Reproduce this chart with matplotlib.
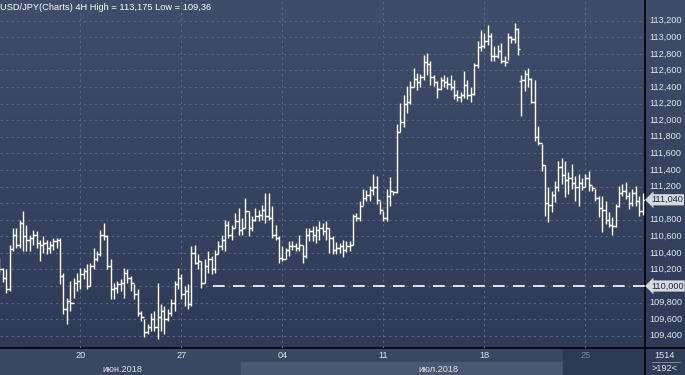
import numpy as np
import matplotlib
matplotlib.use("Agg")
import matplotlib.pyplot as plt
from matplotlib.colors import LinearSegmentedColormap
from matplotlib.patches import Rectangle

plt.rcParams["font.family"] = ["Liberation Sans", "DejaVu Sans"]

# USD/JPY 4H bars, 14.06.2018 - 26.07.2018 (192 bars)
opens = [
    110.28, 110.20, 110.10, 109.96, 110.45, 110.62, 110.50, 110.76, 110.60, 110.56,
    110.58, 110.62, 110.52, 110.50, 110.52, 110.46, 110.50, 110.54, 110.56, 110.12,
    109.72, 109.82, 109.80, 110.04, 110.06, 110.14, 110.18, 110.00, 110.24, 110.32,
    110.38, 110.62, 110.60, 110.24, 109.96, 109.98, 110.02, 110.04, 110.16, 110.10,
    110.04, 109.90, 109.68, 109.62, 109.44, 109.50, 109.60, 109.50, 109.62, 109.70,
    109.60, 109.68, 109.80, 110.02, 110.10, 109.90, 109.94, 109.78, 110.40, 110.28,
    110.30, 110.04, 110.24, 110.32, 110.20, 110.38, 110.48, 110.56, 110.74, 110.62,
    110.70, 110.78, 110.68, 110.70, 110.90, 110.70, 110.80, 110.84, 110.86, 110.92,
    110.84, 110.82, 110.62, 110.58, 110.34, 110.32, 110.44, 110.48, 110.48, 110.46,
    110.50, 110.36, 110.62, 110.66, 110.62, 110.68, 110.70, 110.66, 110.70, 110.58,
    110.44, 110.46, 110.48, 110.44, 110.48, 110.50, 110.85, 110.82, 110.96, 111.06,
    111.10, 111.16, 111.20, 111.04, 110.92, 110.82, 111.08, 111.14, 111.13, 111.86,
    111.98, 112.20, 112.22, 112.40, 112.50, 112.46, 112.52, 112.70, 112.68, 112.52,
    112.46, 112.38, 112.48, 112.46, 112.44, 112.40, 112.30, 112.28, 112.30, 112.42,
    112.30, 112.32, 112.66, 112.88, 112.90, 112.96, 113.02, 112.78, 112.78, 112.84,
    112.72, 112.70, 113.00, 112.98, 113.10, 112.47, 112.48, 112.56, 112.50, 112.22,
    111.80, 111.72, 111.46, 111.00, 110.98, 111.10, 111.20, 111.44, 111.34, 111.28,
    111.30, 111.24, 111.20, 111.24, 111.20, 111.30, 111.22, 111.18, 111.06, 110.94,
    110.92, 110.80, 110.74, 110.72, 110.96, 111.12, 111.14, 111.08, 111.00, 111.12,
    111.02, 110.90,
]
highs = [
    110.34, 110.22, 110.20, 110.50, 110.70, 110.70, 110.80, 110.91, 110.74, 110.62,
    110.68, 110.66, 110.56, 110.60, 110.56, 110.54, 110.58, 110.58, 110.58, 110.16,
    109.86, 110.06, 110.10, 110.16, 110.22, 110.22, 110.26, 110.28, 110.46, 110.42,
    110.68, 110.76, 110.62, 110.32, 110.04, 110.06, 110.08, 110.22, 110.20, 110.12,
    110.02, 109.96, 109.70, 109.60, 109.54, 109.68, 109.70, 110.04, 109.78, 109.76,
    109.72, 109.84, 110.06, 110.22, 110.14, 110.00, 110.02, 110.48, 110.50, 110.38,
    110.30, 110.32, 110.42, 110.36, 110.44, 110.54, 110.62, 110.80, 110.78, 110.74,
    110.88, 110.94, 110.82, 111.06, 110.90, 110.84, 110.94, 110.92, 110.98, 111.12,
    111.12, 110.96, 110.74, 110.60, 110.48, 110.46, 110.54, 110.54, 110.52, 110.62,
    110.50, 110.70, 110.70, 110.72, 110.72, 110.78, 110.76, 110.78, 110.70, 110.60,
    110.53, 110.52, 110.55, 110.54, 110.54, 110.87, 110.88, 111.03, 111.17, 111.16,
    111.21, 111.35, 111.33, 111.03, 110.91, 111.17, 111.31, 111.15, 111.95, 112.21,
    112.31, 112.41, 112.47, 112.63, 112.57, 112.56, 112.79, 112.81, 112.72, 112.55,
    112.47, 112.52, 112.55, 112.52, 112.54, 112.49, 112.36, 112.34, 112.59, 112.48,
    112.40, 112.69, 112.95, 113.09, 113.05, 113.15, 113.05, 112.89, 112.91, 112.93,
    112.78, 113.05, 113.02, 113.175, 113.11, 112.55, 112.61, 112.63, 112.51, 112.49,
    111.93, 111.71, 111.46, 111.19, 111.15, 111.27, 111.51, 111.55, 111.51, 111.37,
    111.47, 111.33, 111.35, 111.30, 111.35, 111.39, 111.21, 111.17, 111.09, 111.09,
    111.03, 110.89, 110.83, 110.99, 111.21, 111.23, 111.25, 111.13, 111.17, 111.21,
    111.09, 111.12,
]
lows = [
    110.16, 110.05, 109.92, 109.94, 110.42, 110.46, 110.46, 110.42, 110.42, 110.42,
    110.50, 110.46, 110.30, 110.40, 110.38, 110.40, 110.44, 110.46, 110.02, 109.66,
    109.54, 109.70, 109.86, 109.94, 109.96, 110.08, 109.96, 110.00, 110.20, 110.30,
    110.36, 110.56, 110.20, 109.84, 109.84, 109.92, 109.94, 109.86, 110.04, 109.94,
    109.84, 109.64, 109.58, 109.38, 109.42, 109.46, 109.46, 109.36, 109.46, 109.42,
    109.58, 109.64, 109.70, 109.96, 109.84, 109.76, 109.72, 109.76, 110.26, 110.20,
    109.98, 110.04, 110.16, 110.14, 110.16, 110.38, 110.44, 110.42, 110.58, 110.56,
    110.70, 110.62, 110.62, 110.70, 110.60, 110.66, 110.78, 110.78, 110.80, 110.76,
    110.80, 110.58, 110.56, 110.28, 110.30, 110.32, 110.36, 110.44, 110.42, 110.42,
    110.28, 110.34, 110.54, 110.54, 110.52, 110.56, 110.62, 110.56, 110.40, 110.39,
    110.38, 110.40, 110.35, 110.41, 110.42, 110.50, 110.78, 110.79, 110.98, 111.03,
    111.03, 111.10, 110.99, 110.87, 110.79, 110.79, 110.97, 111.10, 111.12, 111.86,
    111.92, 112.09, 112.19, 112.40, 112.37, 112.40, 112.49, 112.55, 112.43, 112.41,
    112.27, 112.36, 112.40, 112.38, 112.36, 112.25, 112.23, 112.22, 112.27, 112.26,
    112.22, 112.31, 112.63, 112.83, 112.87, 112.91, 112.71, 112.71, 112.75, 112.69,
    112.65, 112.73, 112.93, 112.93, 112.79, 112.05, 112.35, 112.40, 112.21, 111.75,
    111.70, 111.39, 110.85, 110.77, 110.89, 111.01, 111.15, 111.23, 111.07, 111.11,
    111.17, 111.03, 110.97, 111.16, 111.19, 111.15, 111.15, 111.03, 110.83, 110.65,
    110.75, 110.71, 110.61, 110.71, 110.95, 111.09, 111.05, 110.93, 110.97, 110.97,
    110.85, 110.86,
]
closes = [
    110.20, 110.10, 109.96, 110.45, 110.62, 110.50, 110.76, 110.60, 110.56, 110.58,
    110.62, 110.52, 110.50, 110.52, 110.46, 110.50, 110.54, 110.56, 110.12, 109.72,
    109.82, 109.80, 110.04, 110.06, 110.14, 110.18, 110.00, 110.24, 110.32, 110.38,
    110.62, 110.60, 110.24, 109.96, 109.98, 110.02, 110.04, 110.16, 110.10, 110.04,
    109.90, 109.68, 109.62, 109.44, 109.50, 109.60, 109.50, 109.62, 109.70, 109.60,
    109.68, 109.80, 110.02, 110.10, 109.90, 109.94, 109.78, 110.40, 110.28, 110.30,
    110.04, 110.24, 110.32, 110.20, 110.38, 110.48, 110.56, 110.74, 110.62, 110.70,
    110.78, 110.68, 110.70, 110.90, 110.70, 110.80, 110.84, 110.86, 110.92, 110.84,
    110.82, 110.62, 110.58, 110.34, 110.32, 110.44, 110.48, 110.48, 110.46, 110.50,
    110.36, 110.62, 110.66, 110.62, 110.68, 110.70, 110.66, 110.70, 110.58, 110.44,
    110.46, 110.48, 110.44, 110.48, 110.50, 110.85, 110.82, 110.96, 111.06, 111.10,
    111.16, 111.20, 111.04, 110.92, 110.82, 111.08, 111.14, 111.13, 111.86, 111.98,
    112.20, 112.22, 112.40, 112.50, 112.46, 112.52, 112.70, 112.68, 112.52, 112.46,
    112.38, 112.48, 112.46, 112.44, 112.40, 112.30, 112.28, 112.30, 112.42, 112.30,
    112.32, 112.66, 112.88, 112.90, 112.96, 113.02, 112.78, 112.78, 112.84, 112.72,
    112.70, 113.00, 112.98, 113.10, 112.86, 112.48, 112.56, 112.50, 112.22, 111.80,
    111.72, 111.46, 111.00, 110.98, 111.10, 111.20, 111.44, 111.34, 111.28, 111.30,
    111.24, 111.20, 111.24, 111.20, 111.30, 111.22, 111.18, 111.06, 110.94, 110.92,
    110.80, 110.74, 110.72, 110.96, 111.12, 111.14, 111.08, 111.00, 111.12, 111.02,
    110.90, 111.04,
]

price_levels = [109.4, 109.6, 109.8, 110.0, 110.2, 110.4, 110.6, 110.8, 111.0,
                111.2, 111.4, 111.6, 111.8, 112.0, 112.2, 112.4, 112.6, 112.8,
                113.0, 113.2]
week_bars = [24, 54, 84, 114, 144, 174]
week_labels = ["20", "27", "04", "11", "18", "25"]
month_labels = ["июн.2018", "июл.2018"]
level_line = 110.0
last_price = 111.04

W, H = 685, 375
FS = 6.6
fig = plt.figure(figsize=(W / 100, H / 100), dpi=100)

# background gradient
bg = fig.add_axes([0, 0, 1, 1])
bg.set_xlim(0, W)
bg.set_ylim(H, 0)
bg.axis("off")
cmap = LinearSegmentedColormap.from_list("bg", ["#404d6a", "#2e3a57"])
grad = np.linspace(0, 1, 256).reshape(-1, 1)
bg.imshow(grad, cmap=cmap, aspect="auto", extent=[0, W, 348, 0], zorder=0)

# bottom band
band_top = "#3a4762"
bg.add_patch(Rectangle((0, 348), 563, 14, color=band_top, zorder=1))
bg.add_patch(Rectangle((0, 362), 241, 13, color=band_top, zorder=1))
bg.add_patch(Rectangle((241, 362), 322, 13, color="#4b5771", zorder=1))
bg.add_patch(Rectangle((563, 348), 82, 27, color="#2d3955", zorder=1))
bg.add_patch(Rectangle((645, 348), 40, 27, color="#2f3b57", zorder=1))
bg.plot([0, W], [348, 348], color="black", lw=1.2, zorder=3)
bg.plot([645.5, 645.5], [0, H], color="black", lw=1.2, zorder=3)
bg.plot([652, 680], [362, 362], color="#8a93a6", lw=0.6, zorder=3)
bg.text(665, 355.5, "1514", color="#e6e9ee", fontsize=FS, ha="center", va="center")
bg.text(665, 368.5, ">192<", color="#e6e9ee", fontsize=FS, ha="center", va="center")

# main price axes
ax = fig.add_axes([0, 27 / H, 645 / W, 348 / H])
ax.set_facecolor("none")
ax.set_xlim(0.15, 191.73)
ax.set_ylim(109.252, 113.45)
for s in ax.spines.values():
    s.set_visible(False)
ax.set_xticks([])
ax.set_yticks([])

grid_kw = dict(color="#5a6681", lw=0.8, dashes=(2, 3), zorder=1)
for lv in price_levels:
    ax.axhline(lv, **grid_kw)
for wb in week_bars:
    ax.axvline(wb, **grid_kw)

idx = np.arange(len(closes))
ax.vlines(idx, lows, highs, color="white", lw=1.0, zorder=3)
ax.hlines(opens, idx - 0.65, idx, color="white", lw=1.0, zorder=3)
ax.hlines(closes, idx, idx + 0.65, color="white", lw=1.0, zorder=3)

ax.plot([63.4, 191.73], [level_line, level_line], color="white", lw=1.2,
        dashes=(7, 5), zorder=3)

# right price scale
ytr = ax.get_yaxis_transform()
for lv in price_levels:
    if abs(lv - last_price) < 0.1 or abs(lv - level_line) < 0.01:
        continue
    ax.text(1.0 + 4 / 645, lv, f"{lv:.3f}".replace(".", ","), transform=ytr,
            color="#e3e6ec", fontsize=FS, ha="left", va="center", clip_on=False)

tag_kw = dict(transform=ytr, color="#1f2a40", fontsize=FS, ha="left",
              va="center", clip_on=False, zorder=5,
              bbox=dict(boxstyle="larrow,pad=0.12", fc="#d5d9e0", ec="none"))
for tag in (last_price, level_line):
    ax.text(1.0 + 6 / 645, tag, f"{tag:.3f}".replace(".", ","), **tag_kw)

ax.text(0.0, 1 - 7 / 348, "USD/JPY(Charts) 4H High = 113,175 Low = 109,36",
        transform=ax.transAxes, color="white", fontsize=6.7, ha="left", va="center")

# time axis labels
xtr = ax.get_xaxis_transform()
for wb, lab in zip(week_bars, week_labels):
    col = "#7c869a" if lab == "25" else "#e3e6ec"
    ax.text(wb, -8 / 348, lab, transform=xtr, color=col, fontsize=FS,
            ha="center", va="center", clip_on=False)
ax.text(36.5, -21 / 348, month_labels[0], transform=xtr, color="#e3e6ec",
        fontsize=FS, ha="center", va="center", clip_on=False)
ax.text(130.5, -21 / 348, month_labels[1], transform=xtr, color="#e3e6ec",
        fontsize=FS, ha="center", va="center", clip_on=False)

fig.savefig("out.png", dpi=100)
